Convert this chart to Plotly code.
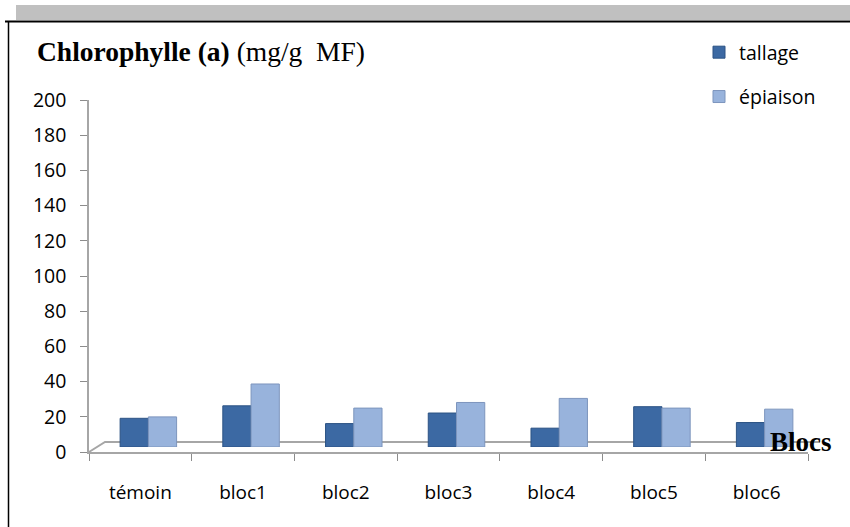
import plotly.graph_objects as go

# data
blocs = ["témoin", "bloc1", "bloc2", "bloc3", "bloc4", "bloc5", "bloc6"]
tallage = [16.3, 23.4, 13.3, 19.3, 10.7, 22.9, 13.9]
epiaison = [17.1, 35.8, 22.1, 25.3, 27.6, 22.1, 21.5]
y_ticks = list(range(0, 201, 20))

W, H = 850, 527
L, R, T, B = 89, 34, 95, 75
PW, PH = W - L - R, H - T - B
DX, DY = 8, 5  # fake 3D offset of the columns, in px


def px(x):
    return (x - L) / PW


def py(y):
    return (H - B - y) / PH


fig = go.Figure()
# empty trace so the visible axes get drawn
fig.add_trace(go.Scatter(x=[None], y=[None], showlegend=False, hoverinfo="skip"))
fig.add_trace(go.Bar(name="tallage", x=blocs, y=tallage, xaxis="x2", yaxis="y2",
                     marker=dict(color="#3c69a3", line=dict(color="#2c5384", width=1)),
                     legendgroup="a"))
fig.add_trace(go.Bar(name="épiaison", x=blocs, y=epiaison, xaxis="x2", yaxis="y2",
                     marker=dict(color="#98b3dc", line=dict(color="#7d95bd", width=1)),
                     legendgroup="b"))

fig.update_layout(
    width=W, height=H,
    margin=dict(l=L, r=R, t=T, b=B, autoexpand=False),
    paper_bgcolor="white", plot_bgcolor="rgba(0,0,0,0)",
    barmode="group", bargap=0.45, bargroupgap=0,
    font=dict(family="Open Sans", size=18, color="black"),
    xaxis=dict(domain=[0, (PW - DX) / PW], range=[-0.5, 6.5], anchor="y",
               tickvals=list(range(len(blocs))), ticktext=blocs, ticks="",
               showline=True, linecolor="#a6a6a6", linewidth=1.5,
               showgrid=False, zeroline=False, ticklabelstandoff=22,
               minor=dict(ticks="outside", tick0=-0.5, dtick=1, ticklen=7,
                          tickcolor="#8c8c8c", tickwidth=1.2, showgrid=False),
               tickfont=dict(family="Open Sans", size=19)),
    yaxis=dict(domain=[0, (PH - DY) / PH], range=[0, 200], anchor="x",
               tickvals=y_ticks, ticks="outside", ticklen=7, tickcolor="#8c8c8c",
               tickwidth=1.2, showline=True, linecolor="#a6a6a6", linewidth=1.5,
               showgrid=False, zeroline=False, ticklabelstandoff=10,
               tickfont=dict(family="Open Sans", size=19.5)),
    xaxis2=dict(domain=[DX / PW, 1], range=[-0.5, 6.5], anchor="y2",
                type="category", visible=False),
    yaxis2=dict(domain=[DY / PH, 1], range=[0, 200], anchor="x2", visible=False),
    legend=dict(x=px(699), y=py(33), xanchor="left", yanchor="top",
                font=dict(family="Open Sans", size=19.5), tracegroupgap=16,
                bgcolor="rgba(0,0,0,0)"),
    showlegend=True,
)

# frame of the original figure
fig.add_shape(type="rect", xref="paper", yref="paper", x0=px(16), x1=px(850),
              y0=py(20), y1=py(5), fillcolor="#c0c0c0", line_width=0, layer="below")
fig.add_shape(type="line", xref="paper", yref="paper", x0=px(5), x1=px(850),
              y0=py(21.5), y1=py(21.5), line=dict(color="black", width=2))
fig.add_shape(type="line", xref="paper", yref="paper", x0=px(8.5), x1=px(8.5),
              y0=py(21.5), y1=py(527), line=dict(color="black", width=1.5))

# 3D floor
fig.add_shape(type="path", xref="paper", yref="paper",
              path="M {} {} L {} {} L {} {}".format(px(89), py(452), px(105), py(442),
                                                    px(820), py(442)),
              line=dict(color="#a6a6a6", width=2), layer="below")

fig.add_annotation(xref="paper", yref="paper", x=px(35), y=py(52), xanchor="left",
                   yanchor="middle", showarrow=False,
                   text="<b>Chlorophylle (a)</b> (mg/g\u00a0 MF)",
                   font=dict(family="Liberation Serif", size=27.5, color="black"))
fig.add_annotation(xref="paper", yref="paper", x=px(801), y=py(442), xanchor="center",
                   yanchor="middle", showarrow=False, text="<b>Blocs</b>",
                   font=dict(family="Liberation Serif", size=27, color="black"))

fig.write_html("out.html", config={"displayModeBar": False},
               post_script="document.body.style.margin='0';")
